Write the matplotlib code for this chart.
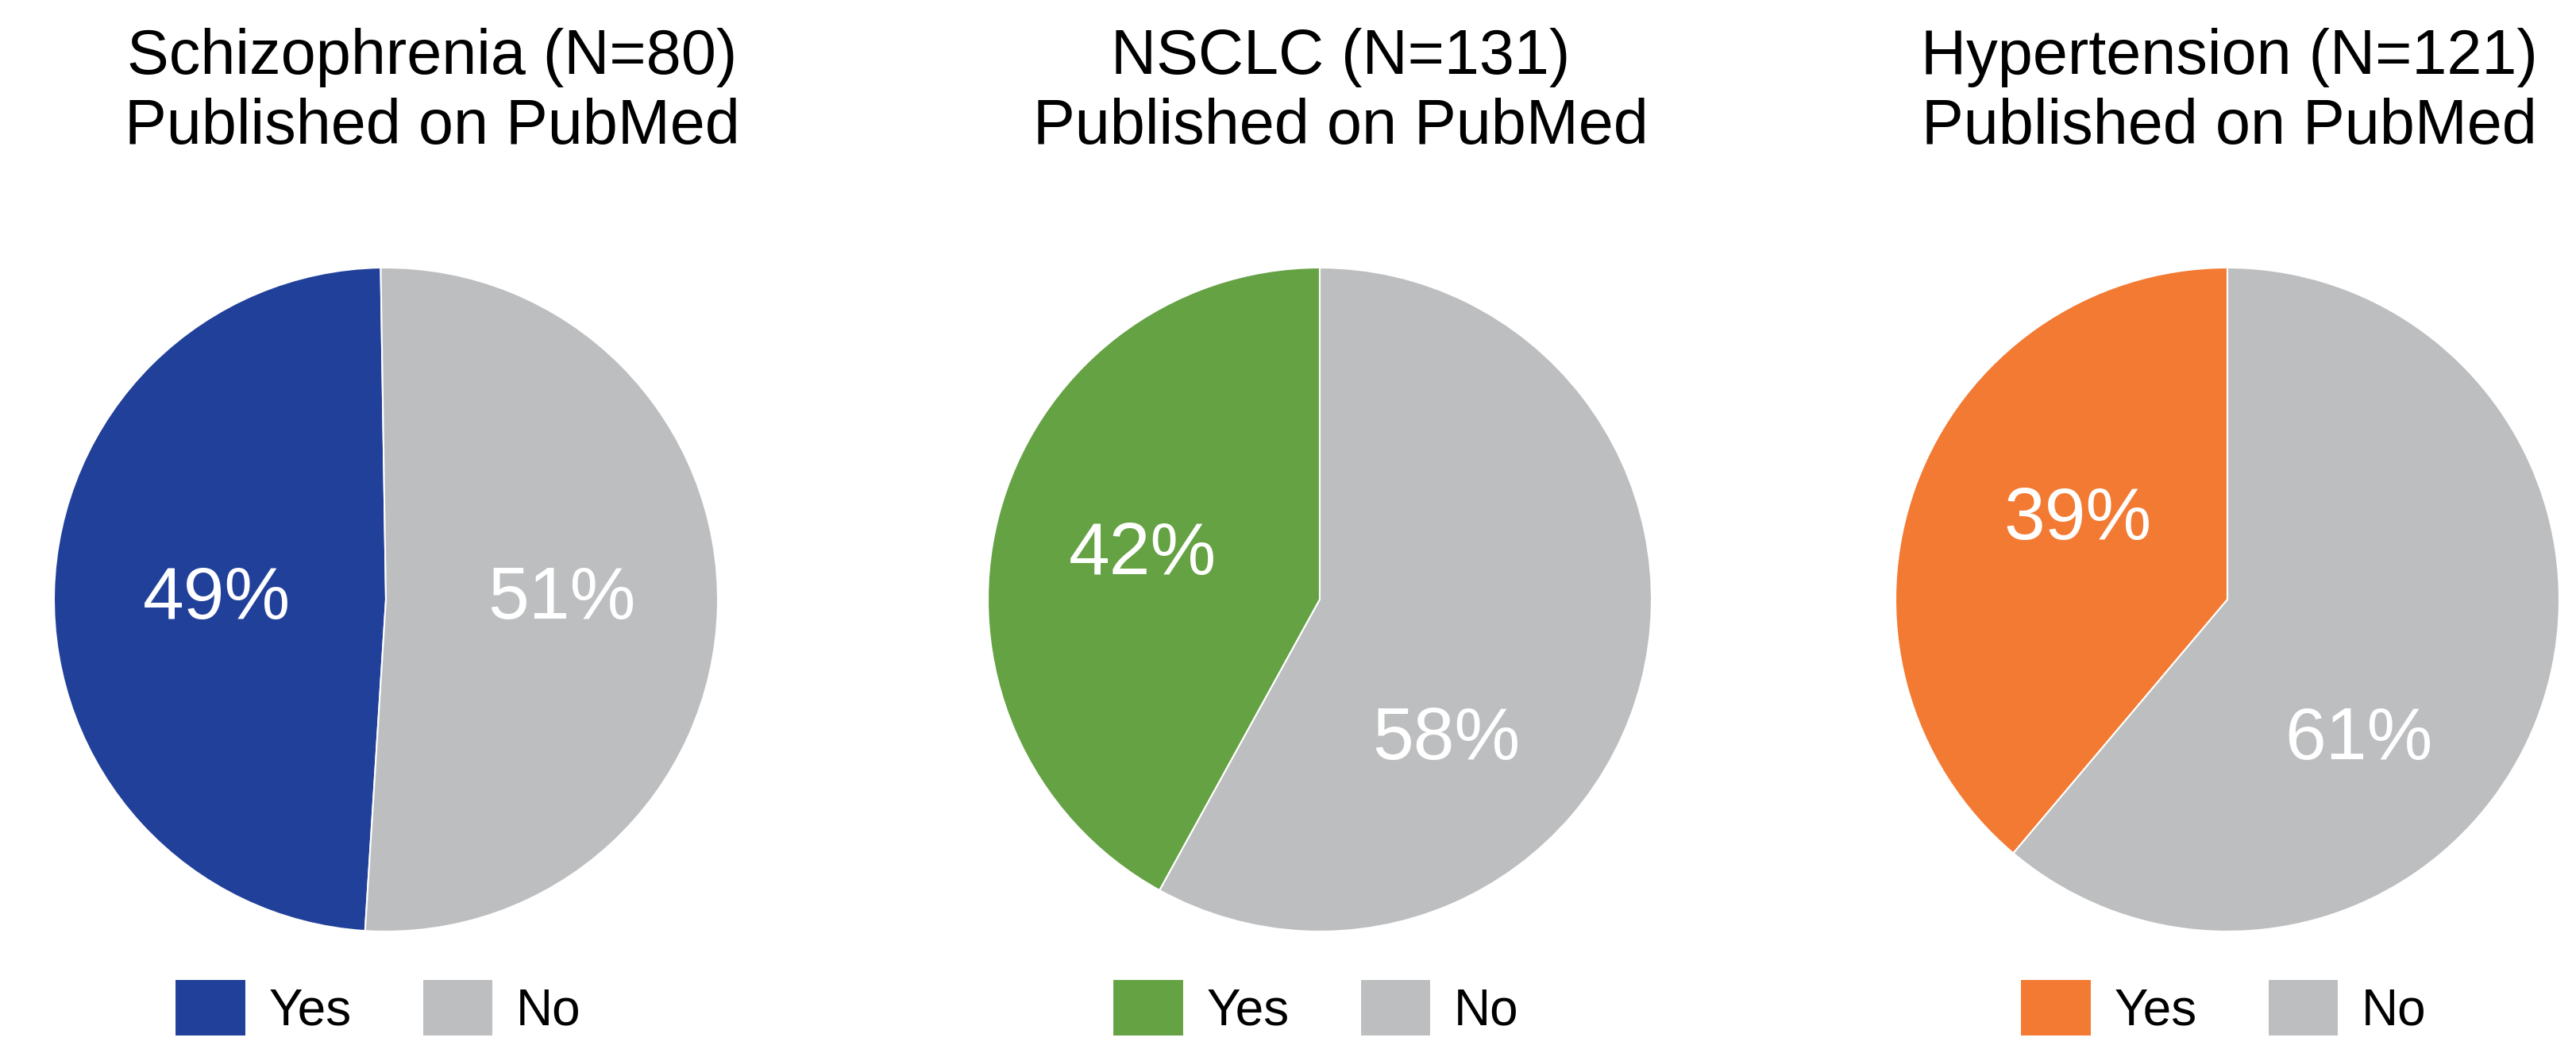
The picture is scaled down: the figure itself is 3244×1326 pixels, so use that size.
import matplotlib
matplotlib.use("Agg")
import matplotlib.pyplot as plt
import numpy as np

plt.rcParams['font.family'] = ['Liberation Sans', 'DejaVu Sans']

# ---- data ----
diseases = ["Schizophrenia", "NSCLC", "Hypertension"]
totals = [80, 131, 121]
yes_counts = [39, 55, 47]
no_counts = [41, 76, 74]
categories = ["Yes", "No"]
yes_colors = ["#21409A", "#65A244", "#F37A33"]
no_color = "#BDBEC0"

# ---- layout (pixels in the full 3244x1326 canvas) ----
W, H = 3244, 1326
centers_x = [486, 1662, 2805]
center_y_top = 755
radius_px = 418
start_angles = [90.9, 90, 90]
title_x = [544, 1688, 2807]
legend_x = [476, 1657, 2800]
# label placement: (angle deg, distance as fraction of radius) for Yes, No
label_pos = [[(180, 0.51), (0, 0.53)],
             [(166, 0.55), (-48, 0.57)],
             [(152, 0.51), (-47, 0.58)]]

fig = plt.figure(figsize=(W / 100, H / 100), dpi=100)

for i in range(3):
    left = (centers_x[i] - radius_px) / W
    bottom = (H - center_y_top - radius_px) / H
    ax = fig.add_axes([left, bottom, 2 * radius_px / W, 2 * radius_px / H])
    vals = [yes_counts[i], no_counts[i]]
    wedges, _ = ax.pie(vals, colors=[yes_colors[i], no_color], startangle=start_angles[i],
                       counterclock=True, radius=1,
                       wedgeprops=dict(edgecolor="white", linewidth=1.5))
    ax.set_xlim(-1, 1)
    ax.set_ylim(-1, 1)
    ax.set_aspect("equal")
    ax.axis("off")
    tot = sum(vals)
    for v, (ang, d) in zip(vals, label_pos[i]):
        pct = 100 * v / tot
        a = np.deg2rad(ang)
        ax.text(d * np.cos(a), d * np.sin(a), f"{pct:.0f}%", color="white",
                fontsize=67, ha="center", va="center")
    fig.legend(wedges, categories, ncol=2, loc="upper center",
               bbox_to_anchor=(legend_x[i] / W, 1 - 1233 / H), frameon=False, fontsize=46,
               handlelength=1.4, handleheight=1.35, handletextpad=0.45,
               columnspacing=1.4, borderpad=0, borderaxespad=0)
    fig.text(title_x[i] / W, 1 - 72 / H, f"{diseases[i]} (N={totals[i]})",
             ha="center", va="center", fontsize=57)
    fig.text(title_x[i] / W, 1 - 161 / H, "Published on PubMed",
             ha="center", va="center", fontsize=57)

fig.savefig("out.png", dpi=100, facecolor="white")
